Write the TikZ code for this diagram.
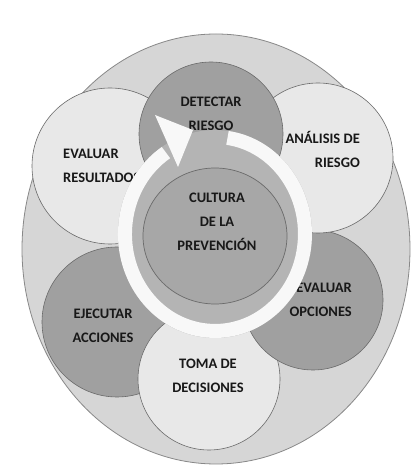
\documentclass[tikz,border=0pt]{standalone}
\usepackage{fontspec}
\setmainfont{Carlito}
\usetikzlibrary{shapes.geometric}
\definecolor{bgell}{HTML}{D6D6D6}
\definecolor{lightp}{HTML}{E8E8E8}
\definecolor{darkp}{HTML}{A0A0A0}
\definecolor{centerc}{HTML}{A7A7A7}
\definecolor{ringg}{HTML}{B4B4B4}
\definecolor{arroww}{HTML}{F8F8F8}
\definecolor{edgec}{HTML}{6A6A6A}
\definecolor{txt}{HTML}{181818}
\begin{document}
\begin{tikzpicture}[x=1pt,y=1pt,
  petal/.style={circle, draw=edgec, line width=0.6pt, minimum size=#1, inner sep=0pt},
  lbl/.style={font=\fontsize{14.5}{24}\selectfont\bfseries, text=txt, inner sep=0pt},
]
\useasboundingbox (0,0) rectangle (420,466);
\fill[white] (0,0) rectangle (420,466);
% outer ellipse
\node[ellipse, draw=edgec!80, line width=0.8pt, fill=bgell, minimum width=388pt, minimum height=430pt, inner sep=0pt] (outer) at (216,217) {};
% petals (bottom to top)
\node[petal=150pt, fill=darkp]  (ejec) at (117,144) {};
\node[petal=142pt, fill=lightp] (toma) at (209,87)  {};
\node[petal=140pt, fill=darkp]  (opci) at (313,166) {};
\node[petal=150pt, fill=lightp] (anal) at (318,308) {};
\node[petal=156pt, fill=lightp] (resu) at (110,300) {};
\node[petal=144pt, fill=darkp]  (dete) at (211,332) {};
% petal labels
\node[lbl, align=center] (tdete) at (211,352) {DETECTAR\\RIESGO};
\node[lbl, align=right, anchor=east] (tanal) at (360,317) {ANÁLISIS DE\\RIESGO};
\node[lbl, align=right, anchor=east] (topci) at (352,166) {EVALUAR\\OPCIONES};
\node[lbl, align=center] (ttoma) at (208,90) {TOMA DE\\DECISIONES};
\node[lbl, align=center] (tejec) at (103,140) {EJECUTAR\\ACCIONES};
\node[lbl, align=left, anchor=west] (tresu) at (63,300) {EVALUAR\\RESULTADOS};
% ring
\fill[ringg, even odd rule] (215,232) ellipse [x radius=97, y radius=104] (215,232) ellipse [x radius=60, y radius=58];
% white circular arrow
\coordinate (arrstart) at (227.5,328.1);
\draw[arroww, line width=14pt] (arrstart) arc[start angle=82, end angle=-237, x radius=90, y radius=97];
\coordinate (hout) at (155,351);
\coordinate (htip) at (193,336);
\coordinate (hin) at (178,299);
\fill[arroww] (hout) -- (htip) -- (hin) -- cycle;
% centre
\node[ellipse, draw=edgec, line width=0.7pt, fill=centerc, minimum width=144pt, minimum height=136pt, inner sep=0pt] (cent) at (215,230) {};
\node[lbl, align=center] (tcent) at (217,244) {CULTURA\\DE LA\\PREVENCIÓN};
\end{tikzpicture}
\end{document}
